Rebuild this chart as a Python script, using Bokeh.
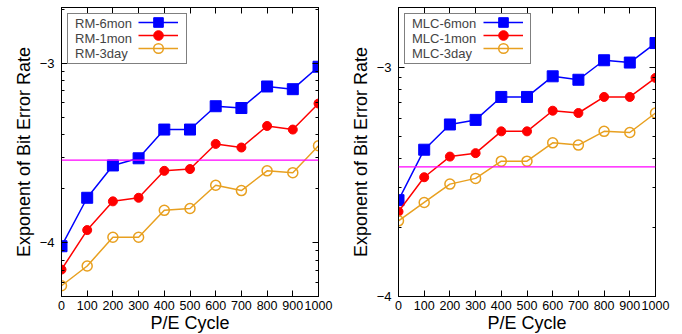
import math
from bokeh.plotting import figure
from bokeh.models import (FixedTicker, LinearAxis, Span, Legend, LegendItem, Range1d,
                          CustomLabelingPolicy)
from bokeh.layouts import row
from bokeh.embed import file_html
from bokeh.resources import INLINE

# ---- data (exponent of bit error rate) ----
pe_cycle = [0, 100, 200, 300, 400, 500, 600, 700, 800, 900, 1000]
x_ticks = [0, 100, 200, 300, 400, 500, 600, 700, 800, 900, 1000]
y_ticks = [-4, -3]

rm_6mon = [-4.02, -3.75, -3.57, -3.53, -3.37, -3.37, -3.24, -3.25, -3.13, -3.145, -3.02]
rm_1mon = [-4.15, -3.93, -3.77, -3.75, -3.60, -3.59, -3.45, -3.47, -3.35, -3.37, -3.225]
rm_3day = [-4.24, -4.13, -3.97, -3.97, -3.82, -3.81, -3.68, -3.71, -3.60, -3.61, -3.46]
rm_threshold = -3.54

mlc_6mon = [-3.58, -3.36, -3.25, -3.23, -3.13, -3.13, -3.04, -3.055, -2.97, -2.98, -2.895]
mlc_1mon = [-3.63, -3.48, -3.39, -3.375, -3.28, -3.28, -3.19, -3.20, -3.13, -3.13, -3.047]
mlc_3day = [-3.67, -3.59, -3.51, -3.485, -3.41, -3.41, -3.33, -3.34, -3.28, -3.285, -3.20]
mlc_threshold = -3.435

FONT = "Liberation Sans"
BLUE, RED, ORANGE, MAGENTA = "#0000ff", "#ff0000", "#e8a020", "#ff00ff"
FRAME_W, FRAME_H = 257, 289


def log_minor(lo, hi):
    out = []
    for e in range(-6, 0):
        for k in range(2, 10):
            v = e + math.log10(k)
            if lo < v < hi:
                out.append(v)
    return out


def no_labels():
    return CustomLabelingPolicy(code="return new Set()")


def panel(prefix, s6, s1, s3, thr, y0, y1, bl, br, key_w, sample_x):
    p = figure(frame_width=FRAME_W, frame_height=FRAME_H,
               x_range=Range1d(0, 1000), y_range=Range1d(y0, y1),
               output_backend="svg", toolbar_location=None,
               min_border_left=bl, min_border_right=br, min_border_top=7, min_border_bottom=38)
    p.grid.visible = False
    p.outline_line_color = "black"
    p.outline_line_width = 1

    xt = FixedTicker(ticks=x_ticks, minor_ticks=[])
    yt = FixedTicker(ticks=y_ticks, minor_ticks=log_minor(y0, y1))

    for ax in p.xaxis:
        ax.ticker = xt
    for ax in p.yaxis:
        ax.ticker = yt
    for ax in list(p.xaxis) + list(p.yaxis):
        ax.major_tick_in = 6
        ax.major_tick_out = 0
        ax.minor_tick_in = 3
        ax.minor_tick_out = 0
        ax.axis_line_color = "black"
        ax.major_tick_line_color = "black"
        ax.minor_tick_line_color = "black"
        ax.major_label_text_font = FONT
        ax.axis_label_text_font = FONT
        ax.axis_label_text_font_style = "normal"
        ax.axis_label_text_color = "black"
        ax.major_label_text_color = "black"
    p.xaxis.major_label_text_font_size = "12.5px"
    p.xaxis.major_label_standoff = 4
    p.yaxis.major_label_text_font_size = "13px"
    p.yaxis.major_label_standoff = 7
    p.xaxis.axis_label = "P/E Cycle"
    p.yaxis.axis_label = "Exponent of Bit Error Rate"
    p.xaxis.axis_label_text_font_size = "18px"
    p.yaxis.axis_label_text_font_size = "18px"
    p.xaxis.axis_label_standoff = 0
    p.yaxis.axis_label_standoff = 3

    # mirrored axes (ticks only, no labels)
    right = LinearAxis(ticker=yt, major_label_policy=no_labels(), major_label_standoff=0,
                       major_label_text_font_size="0px",
                       major_tick_in=6, major_tick_out=0, minor_tick_in=3, minor_tick_out=0,
                       axis_line_color="black")
    top = LinearAxis(ticker=xt, major_label_policy=no_labels(), major_label_standoff=0,
                     major_label_text_font_size="0px",
                     major_tick_in=6, major_tick_out=0, minor_tick_in=0, minor_tick_out=0,
                     axis_line_color="black")
    p.add_layout(right, "right")
    p.add_layout(top, "above")

    p.add_layout(Span(location=thr, dimension="width", line_color=MAGENTA, line_width=1.3))

    l6 = p.line(pe_cycle, s6, line_color=BLUE, line_width=1.5)
    m6 = p.scatter(pe_cycle, s6, marker="square", size=11, fill_color=BLUE, line_color=BLUE)
    l1 = p.line(pe_cycle, s1, line_color=RED, line_width=1.5)
    m1 = p.scatter(pe_cycle, s1, marker="circle", size=9, fill_color=RED, line_color=RED)
    l3 = p.line(pe_cycle, s3, line_color=ORANGE, line_width=1.5)
    m3 = p.scatter(pe_cycle, s3, marker="circle", size=10, fill_color=None,
                   line_color=ORANGE, line_width=1.5)

    labels = [f"{prefix}-6mon", f"{prefix}-1mon", f"{prefix}-3day"]
    groups = [[l6, m6], [l1, m1], [l3, m3]]

    # key box with the texts (gnuplot style: text first, sample on the right)
    txt = Legend(items=[LegendItem(label=lab, renderers=[g[0]]) for lab, g in zip(labels, groups)],
                 location="top_left")
    txt.margin = 6
    txt.padding = 2
    txt.spacing = 0
    txt.label_height = 13
    txt.glyph_height = 13
    txt.glyph_width = 0
    txt.label_standoff = 5
    txt.label_width = key_w - 9
    txt.label_text_font = FONT
    txt.label_text_font_size = "13px"
    txt.border_line_color = "black"
    txt.border_line_width = 1
    txt.background_fill_alpha = 1
    p.add_layout(txt)

    # one sample per key row, to the right of its text
    row_h, glyph_h = 13, 24
    first_center = 6 + 2 + row_h / 2
    for i, g in enumerate(groups):
        top_off = first_center + i * row_h - glyph_h / 2
        gl = Legend(items=[LegendItem(label="", renderers=g)],
                    location=(sample_x, FRAME_H - top_off - glyph_h))
        gl.margin = 0
        gl.padding = 0
        gl.spacing = 0
        gl.label_height = 0
        gl.glyph_height = glyph_h
        gl.glyph_width = 40
        gl.label_standoff = 0
        gl.border_line_color = None
        gl.background_fill_color = None
        gl.background_fill_alpha = 0
        p.add_layout(gl)
    return p


p1 = panel("RM", rm_6mon, rm_1mon, rm_3day, rm_threshold, -4.30, -2.69, 61, 23, 118, 77)
p2 = panel("MLC", mlc_6mon, mlc_1mon, mlc_3day, mlc_threshold, -4.0, -2.74, 57, 26, 125, 85)

layout = row(p1, p2)
open("out.html", "w").write(file_html(layout, INLINE))
